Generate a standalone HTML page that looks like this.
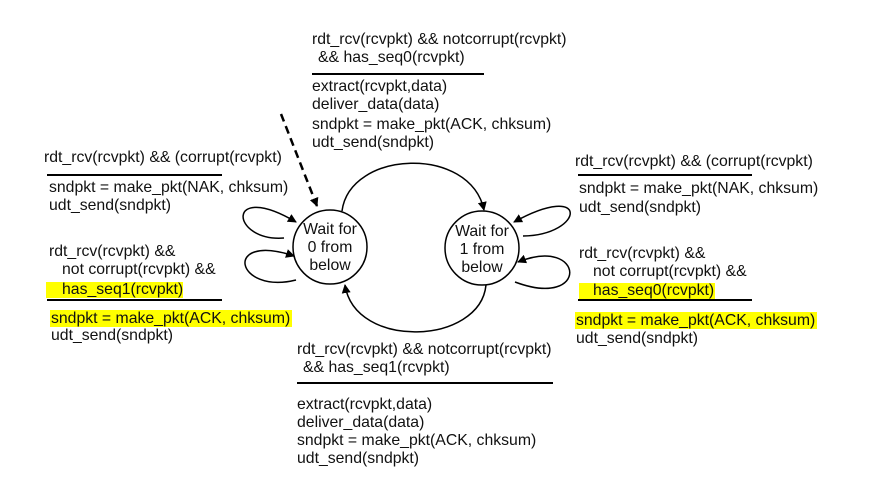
<!DOCTYPE html>
<html><head><meta charset="utf-8"><style>
html,body{margin:0;padding:0;background:#fff}
svg text{font-family:"Liberation Sans",Arial,sans-serif;font-size:15.8px;fill:#111}
</style></head><body>
<svg width="873" height="496" viewBox="0 0 873 496" xmlns="http://www.w3.org/2000/svg">
<defs><marker id="a" markerWidth="9" markerHeight="9" refX="8" refY="4.5" orient="auto" markerUnits="userSpaceOnUse"><path d="M0,0 L9,4.5 L0,9 Z" fill="#000"/></marker></defs>
<rect x="46" y="282" width="137" height="16" fill="#ffff00"/>
<rect x="50" y="310" width="242" height="17" fill="#ffff00"/>
<rect x="579" y="283" width="136" height="16" fill="#ffff00"/>
<rect x="575" y="312" width="242" height="17" fill="#ffff00"/>
<text x="312" y="44">rdt_rcv(rcvpkt) &amp;&amp; notcorrupt(rcvpkt)</text>
<text x="318" y="62">&amp;&amp; has_seq0(rcvpkt)</text>
<line x1="312" y1="74" x2="484" y2="74" stroke="#000" stroke-width="2"/>
<text x="312" y="91">extract(rcvpkt,data)</text>
<text x="312" y="109">deliver_data(data)</text>
<text x="312" y="129">sndpkt = make_pkt(ACK, chksum)</text>
<text x="312" y="147">udt_send(sndpkt)</text>
<text x="44" y="162">rdt_rcv(rcvpkt) &amp;&amp; (corrupt(rcvpkt)</text>
<line x1="47" y1="175" x2="222" y2="175" stroke="#000" stroke-width="2"/>
<text x="49" y="192">sndpkt = make_pkt(NAK, chksum)</text>
<text x="49" y="210">udt_send(sndpkt)</text>
<text x="49" y="256">rdt_rcv(rcvpkt) &amp;&amp;</text>
<text x="62" y="274">not corrupt(rcvpkt) &amp;&amp;</text>
<text x="62" y="294">has_seq1(rcvpkt)</text>
<line x1="47" y1="300" x2="222" y2="300" stroke="#000" stroke-width="2"/>
<text x="51" y="323">sndpkt = make_pkt(ACK, chksum)</text>
<text x="51" y="340">udt_send(sndpkt)</text>
<text x="575" y="166">rdt_rcv(rcvpkt) &amp;&amp; (corrupt(rcvpkt)</text>
<line x1="578" y1="175" x2="752" y2="175" stroke="#000" stroke-width="2"/>
<text x="579" y="193">sndpkt = make_pkt(NAK, chksum)</text>
<text x="579" y="212">udt_send(sndpkt)</text>
<text x="579" y="258">rdt_rcv(rcvpkt) &amp;&amp;</text>
<text x="593" y="276">not corrupt(rcvpkt) &amp;&amp;</text>
<text x="593" y="295">has_seq0(rcvpkt)</text>
<line x1="578" y1="300" x2="752" y2="300" stroke="#000" stroke-width="2"/>
<text x="576" y="325">sndpkt = make_pkt(ACK, chksum)</text>
<text x="576" y="343">udt_send(sndpkt)</text>
<text x="297" y="354">rdt_rcv(rcvpkt) &amp;&amp; notcorrupt(rcvpkt)</text>
<text x="303" y="372">&amp;&amp; has_seq1(rcvpkt)</text>
<line x1="297" y1="383" x2="553" y2="383" stroke="#000" stroke-width="2"/>
<text x="297" y="409">extract(rcvpkt,data)</text>
<text x="297" y="427">deliver_data(data)</text>
<text x="297" y="445">sndpkt = make_pkt(ACK, chksum)</text>
<text x="297" y="463">udt_send(sndpkt)</text>
<circle cx="330" cy="247" r="37" fill="#fff" stroke="#000" stroke-width="1.5"/>
<circle cx="482" cy="248" r="37" fill="#fff" stroke="#000" stroke-width="1.5"/>
<text x="330" y="234" text-anchor="middle">Wait for</text>
<text x="330" y="252" text-anchor="middle">0 from</text>
<text x="330" y="270" text-anchor="middle">below</text>
<text x="482" y="236" text-anchor="middle">Wait for</text>
<text x="482" y="254" text-anchor="middle">1 from</text>
<text x="482" y="272" text-anchor="middle">below</text>
<g fill="none" stroke="#000" stroke-width="1.5">
<line x1="281" y1="114" x2="317" y2="206" stroke-dasharray="8,5" stroke-width="2.5" marker-end="url(#a)"/>
<path d="M342,211 C350,150 470,145 484,210" marker-end="url(#a)"/>
<path d="M486,285 C480,345 355,350 345,285" marker-end="url(#a)"/>
<path d="M284,238 C230,242 225,180 296,222" marker-end="url(#a)"/>
<path d="M296,280 C235,295 222,232 294,256" marker-end="url(#a)"/>
<path d="M523,236 C585,235 590,180 514,222" marker-end="url(#a)"/>
<path d="M515,282 C590,310 585,235 518,262" marker-end="url(#a)"/>
</g>
</svg>
</body></html>
